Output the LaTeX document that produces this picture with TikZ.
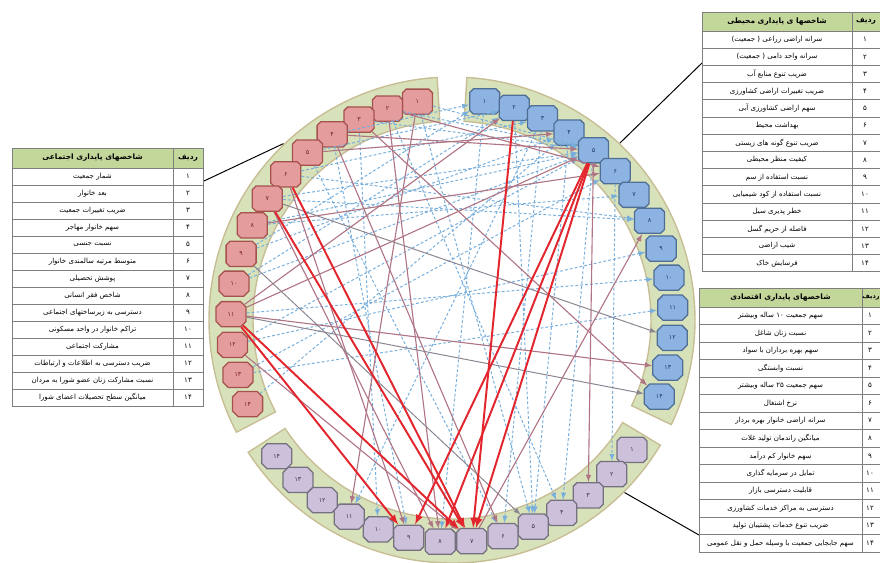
\documentclass[tikz,border=0pt]{standalone}
\usepackage{fontspec}
\newfontfamily\fa[Script=Arabic]{DejaVu Sans}
\TeXXeTstate=1
\usetikzlibrary{shapes.misc}

\definecolor{bandfill}{HTML}{D8E2BA}
\definecolor{bandline}{HTML}{C8BE96}
\definecolor{headfill}{HTML}{C4D79B}
\definecolor{tabgrey}{HTML}{7F7F7F}
\definecolor{socfill}{HTML}{E59C9C}
\definecolor{socline}{HTML}{A5524F}
\definecolor{soctext}{HTML}{7A1F1F}
\definecolor{envfill}{HTML}{8DB3E2}
\definecolor{envline}{HTML}{4F6E96}
\definecolor{envtext}{HTML}{1F3864}
\definecolor{ecofill}{HTML}{CCC0DA}
\definecolor{ecoline}{HTML}{75707F}
\definecolor{ecotext}{HTML}{3F3151}
\definecolor{linkred}{HTML}{E3262E}
\definecolor{linkmauve}{HTML}{B07585}
\definecolor{linkgrey}{HTML}{8C8490}
\definecolor{linkblue}{HTML}{78AEDB}

\tikzset{
 band/.style={fill=bandfill,draw=bandline,line width=1pt},
 octo/.style={chamfered rectangle,chamfered rectangle xsep=0.11cm,chamfered rectangle ysep=0.11cm,
  inner sep=0pt,minimum width=0.75cm,minimum height=0.63cm,line width=0.9pt,
  font=\fa\fontsize{4.5}{5}\selectfont},
 socnode/.style={octo,fill=socfill,draw=socline,text=soctext},
 envnode/.style={octo,fill=envfill,draw=envline,text=envtext},
 econode/.style={octo,fill=ecofill,draw=ecoline,text=ecotext},
 redlink/.style={->,draw=linkred,line width=1.4pt},
 mauvelink/.style={->,draw=linkmauve,line width=0.8pt},
 greylink/.style={->,draw=linkgrey,line width=0.7pt},
 bluelink/.style={->,draw=linkblue,line width=0.7pt,dash pattern=on 2pt off 1.5pt},
 tabline/.style={draw=tabgrey,line width=0.5pt},
 rowtxt/.style={font=\fa\fontsize{5}{6}\selectfont,inner sep=0pt},
 headtxt/.style={font=\fa\bfseries\fontsize{5.3}{6}\selectfont,inner sep=0pt},
}

\begin{document}
\begin{tikzpicture}[x=0.025cm,y=0.025cm,>=latex]
\useasboundingbox (0,0) rectangle (880,562);

\begin{scope}[shift={(452,242)}]
% three bands
\filldraw[band] (93.5:199) arc[start angle=93.5,end angle=207.5,radius=199] -- (207.5:243) arc[start angle=207.5,end angle=93.5,radius=243] -- cycle;
\filldraw[band] (86.5:199) arc[start angle=86.5,end angle=-25.5,radius=199] -- (-25.5:243) arc[start angle=-25.5,end angle=86.5,radius=243] -- cycle;
\filldraw[band] (-31:199) arc[start angle=-31,end angle=-147,radius=199] -- (-147:243) arc[start angle=-147,end angle=-31,radius=243] -- cycle;
\coordinate (socpin) at (133.7:244);
\coordinate (envpin) at (46.5:244);
\coordinate (ecopin) at (-45:244);

% indicator nodes
\foreach \i/\nr in {1/۱,2/۲,3/۳,4/۴,5/۵,6/۶,7/۷,8/۸,9/۹,10/۱۰,11/۱۱,12/۱۲,13/۱۳,14/۱۴}{
 \node[socnode] (soc\i) at ({99+7.95*(\i-1)}:221) {\nr};
 \node[envnode] (env\i) at ({81.5-7.83*(\i-1)}:221) {\nr};
 \node[econode] (eco\i) at ({-35.8-8.18*(\i-1)}:222) {\nr};
}
\end{scope}

% links
\foreach \a/\b in {soc1/env5,soc2/env5,soc3/env5,soc4/env1,soc5/env2,soc6/env3,soc7/env5,soc8/env5,
  soc9/env4,soc10/env5,soc12/env5,soc13/env6,soc14/env4,soc9/env1,soc10/env2,soc6/env8,soc7/env8,
  soc8/env7,soc12/env9,env3/eco6,env4/eco5,env6/eco2,env1/eco8,env2/eco5,soc1/eco5,soc2/eco4,
  soc4/eco9,soc5/eco6,soc3/eco10,env3/eco11,soc13/env11,soc11/env10,env5/eco4}
 \draw[bluelink] (\a) -- (\b);
\foreach \a/\b in {soc3/env14,soc11/env13,soc11/env5,soc11/env2,soc4/env5,soc5/env4,soc2/env6,
  soc7/eco8,soc6/eco9,eco7/env8,env5/eco3,soc1/eco11,soc4/eco6,soc2/eco8,soc8/env6,soc12/eco7}
 \draw[mauvelink] (\a) -- (\b);
\foreach \a/\b in {soc11/env14,soc7/env12,soc9/eco5}
 \draw[greylink] (\a) -- (\b);
\foreach \a/\b in {soc6/eco7,soc7/eco7,soc11/eco7,soc11/eco9,env2/eco7,env5/eco7,env5/eco9,env5/eco8}
 \draw[redlink] (\a) -- (\b);

% social table
\coordinate (soctab) at (204,381);
\draw[line width=0.7pt] (soctab) -- (socpin);
\fill[headfill] (12,414) rectangle (203,394);
\foreach \nr/\lbl [count=\i] in {۱/شمار جمعیت,۲/بعد خانوار,۳/ضریب تغییرات جمعیت,۴/سهم خانوار مهاجر,
  ۵/نسبت جنسی,۶/متوسط مرتبه سالمندی خانوار,۷/پوشش تحصیلی,۸/شاخص فقر انسانی,
  ۹/دسترسی به زیرساختهای اجتماعی,۱۰/تراکم خانوار در واحد مسکونی,۱۱/مشارکت اجتماعی,
  ۱۲/ضریب دسترسی به اطلاعات و ارتباطات,۱۳/نسبت مشارکت زنان عضو شورا به مردان,
  ۱۴/میانگین سطح تحصیلات اعضای شورا}{
 \node[rowtxt] (soctxt\i) at (92.5,{402.5-17*\i}) {\beginR\lbl\endR};
 \node[rowtxt] (socnr\i) at (188,{402.5-17*\i}) {\nr};
 \draw[tabline] (12,{394-17*\i}) -- (203,{394-17*\i});
}
\draw[tabline] (12,414) rectangle (203,156);
\draw[tabline] (173,414) -- (173,156) (12,394) -- (203,394);
\node[headtxt] (sochead) at (92.5,404) {\beginR شاخصهای پایداری اجتماعی\endR};
\node[headtxt] (socrow) at (188,404) {\beginR ردیف\endR};

% environmental table
\coordinate (envtab) at (702,499);
\draw[line width=0.7pt] (envtab) -- (envpin);
\fill[headfill] (702,550) rectangle (880,531);
\foreach \nr/\lbl [count=\i] in {۱/سرانه اراضی زراعی ( جمعیت),۲/سرانه واحد دامی ( جمعیت),
  ۳/ضریب تنوع منابع آب,۴/ضریب تغییرات اراضی کشاورزی,۵/سهم اراضی کشاورزی آبی,۶/بهداشت محیط,
  ۷/ضریب تنوع گونه های زیستی,۸/کیفیت منظر محیطی,۹/نسبت استفاده از سم,
  ۱۰/نسبت استفاده از کود شیمیایی,۱۱/خطر پذیری سیل,۱۲/فاصله از حریم گسل,۱۳/شیب اراضی,
  ۱۴/فرسایش خاک}{
 \node[rowtxt] (envtxt\i) at (777,{539.6-17.2*\i}) {\beginR\lbl\endR};
 \node[rowtxt] (envnr\i) at (865,{539.6-17.2*\i}) {\nr};
 \draw[tabline] (702,{531-17.2*\i}) -- (880,{531-17.2*\i});
}
\draw[tabline] (702,550) rectangle (880,290.2);
\draw[tabline] (852,550) -- (852,290.2) (702,531) -- (880,531);
\node[headtxt] (envhead) at (777,540.5) {\beginR شاخصها ی پایداری محیطی\endR};
\node[headtxt] (envrow) at (866,540.5) {\beginR ردیف\endR};

% economic table
\coordinate (ecotab) at (699,27);
\draw[line width=0.7pt] (ecotab) -- (ecopin);
\fill[headfill] (699,274) rectangle (880,255);
\foreach \nr/\lbl [count=\i] in {۱/سهم جمعیت ۱۰ ساله وبیشتر,۲/نسبت زنان شاغل,
  ۳/سهم بهره برداران با سواد,۴/نسبت وابستگی,۵/سهم جمعیت ۲۵ ساله وبیشتر,۶/نرخ اشتغال,
  ۷/سرانه اراضی خانوار بهره بردار,۸/میانگین راندمان تولید غلات,۹/سهم خانوار کم درآمد,
  ۱۰/تمایل در سرمایه گذاری,۱۱/قابلیت دسترسی بازار,۱۲/دسترسی به مراکز خدمات کشاورزی,
  ۱۳/ضریب تنوع خدمات پشتیبان تولید,۱۴/سهم جابجایی جمعیت با وسیله حمل و نقل عمومی}{
 \node[rowtxt] (ecotxt\i) at (780.5,{263.75-17.5*\i}) {\beginR\lbl\endR};
 \node[rowtxt] (econr\i) at (870,{263.75-17.5*\i}) {\nr};
 \draw[tabline] (699,{255-17.5*\i}) -- (880,{255-17.5*\i});
}
\draw[tabline] (699,274) rectangle (880,10);
\draw[tabline] (862,274) -- (862,10) (699,255) -- (880,255);
\node[headtxt] (ecohead) at (780.5,264.5) {\beginR شاخصهای پایداری اقتصادی\endR};
\node[headtxt,font=\fa\bfseries\fontsize{4.6}{5}\selectfont] (ecorow) at (871,264.5) {\beginR ردیف\endR};
\end{tikzpicture}
\end{document}
